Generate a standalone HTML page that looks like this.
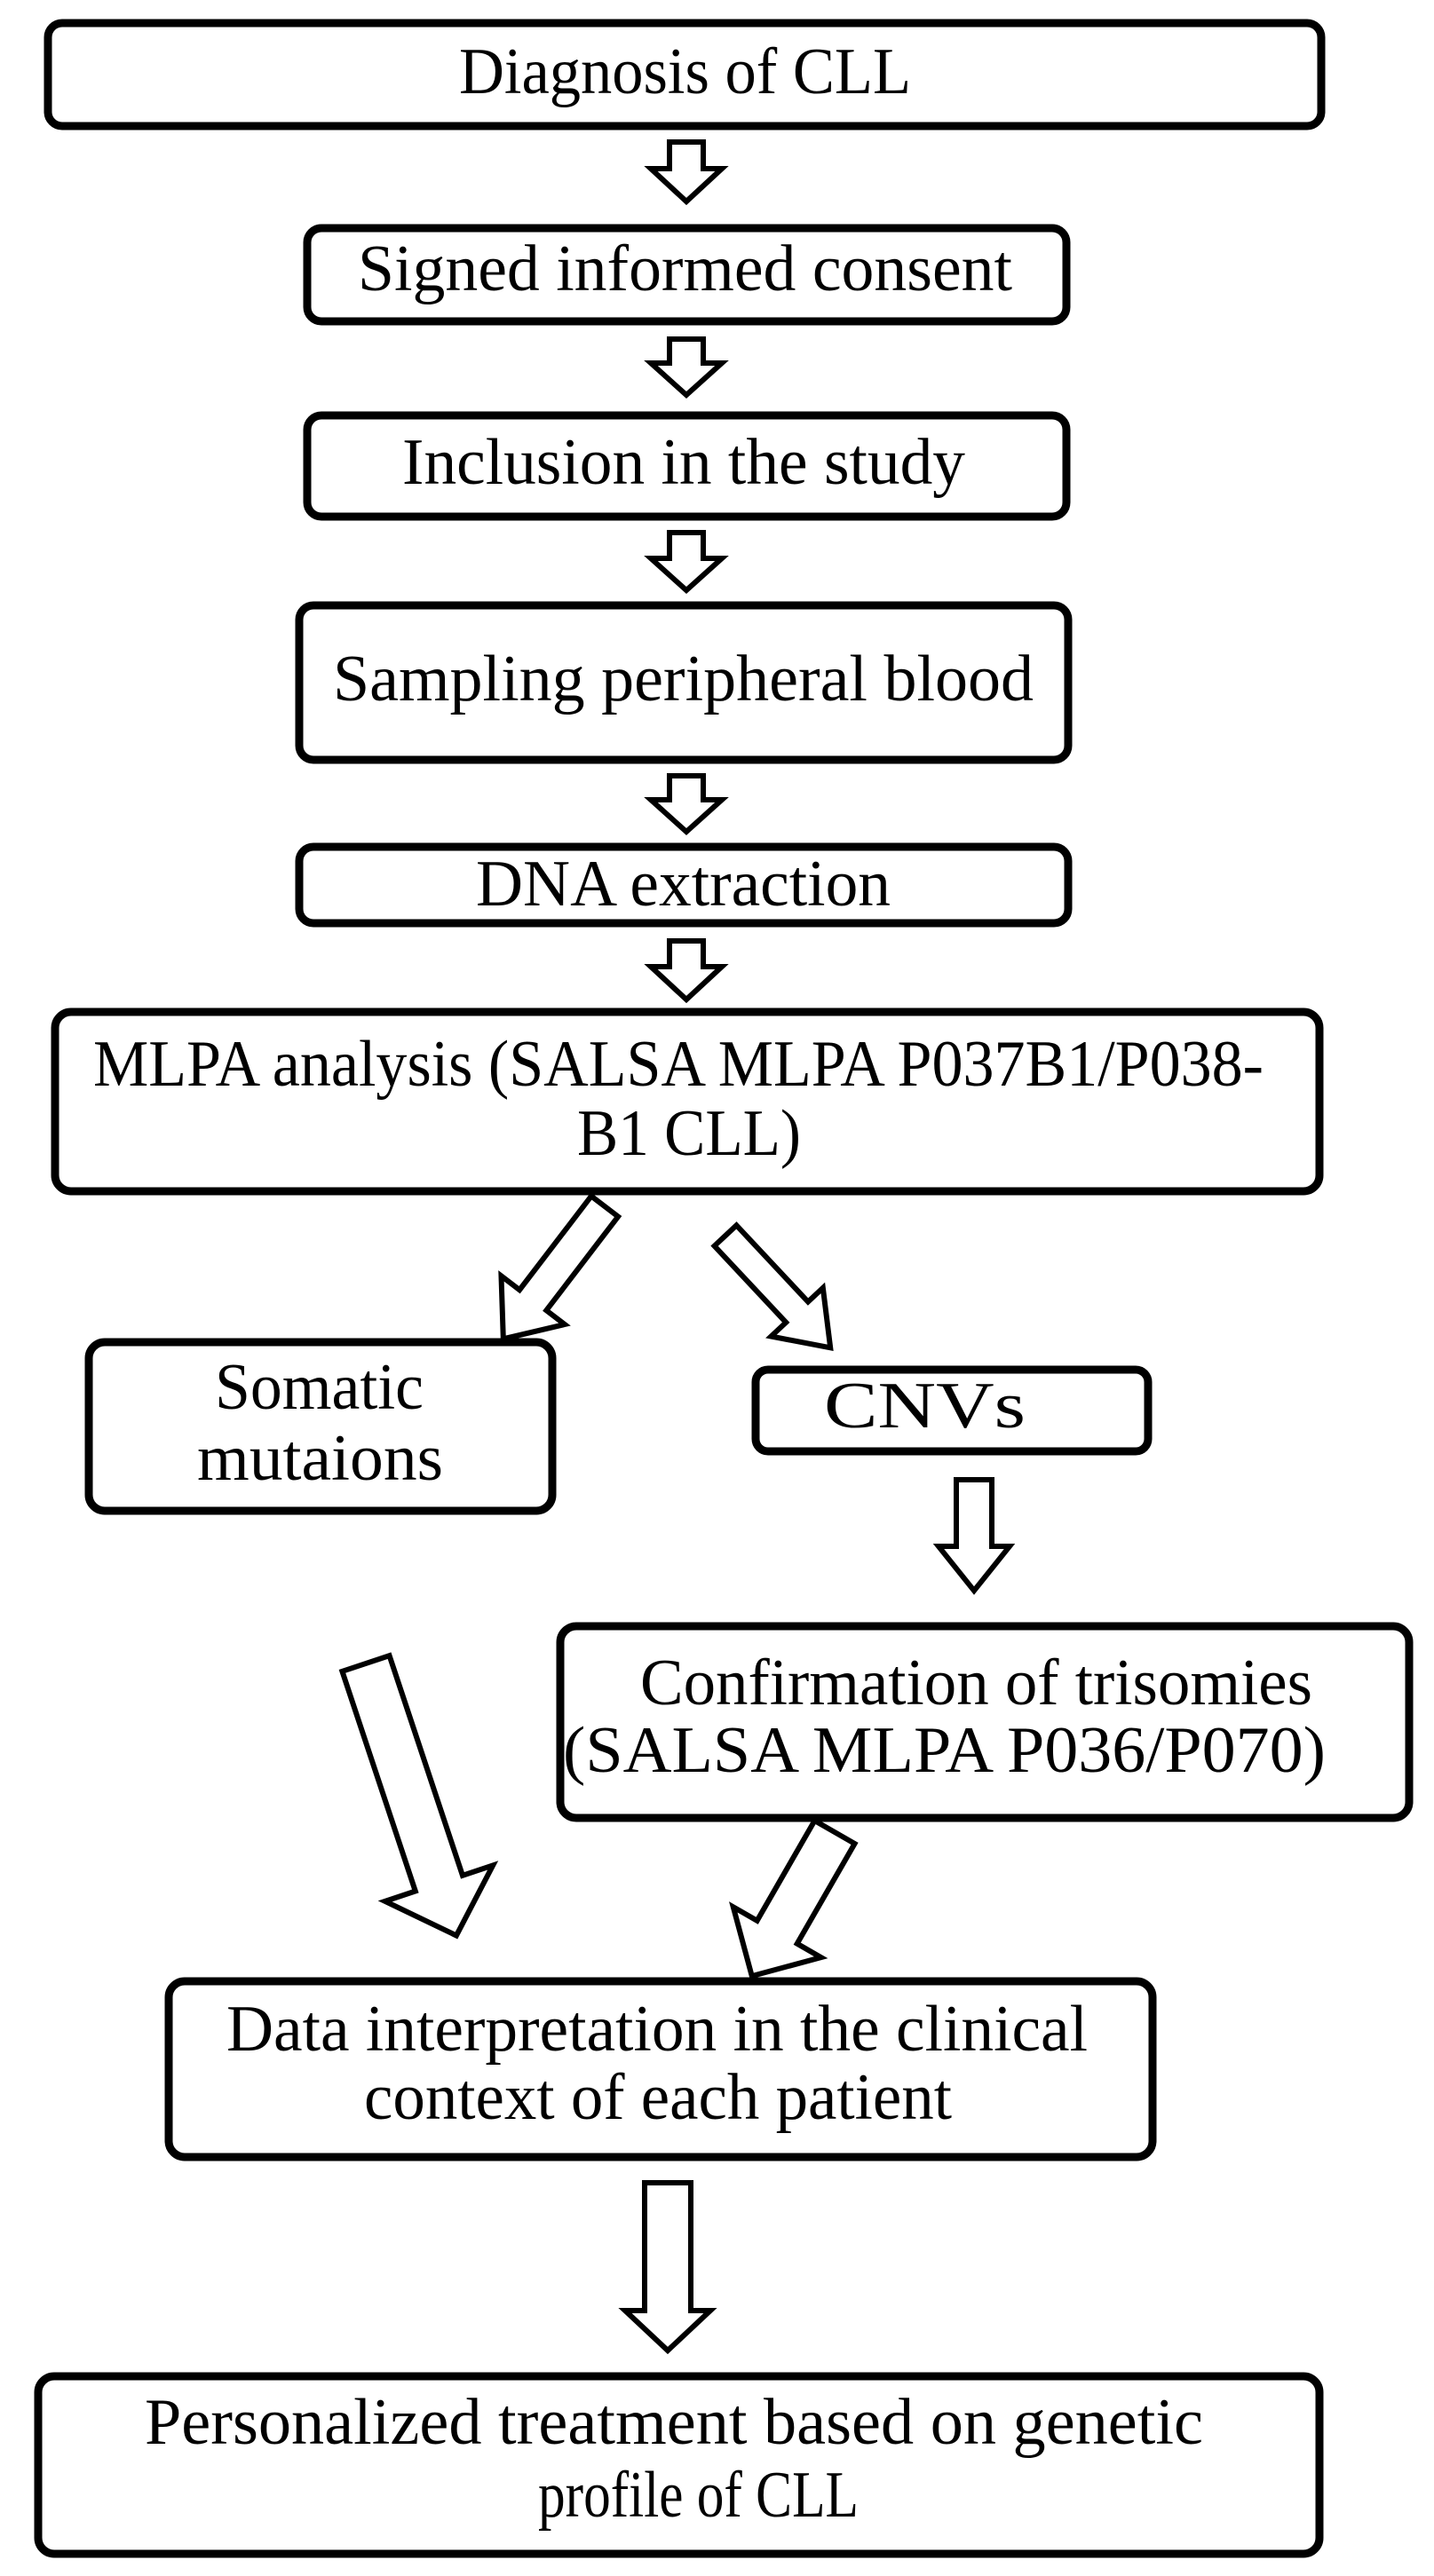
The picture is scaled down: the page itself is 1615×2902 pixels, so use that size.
<!DOCTYPE html>
<html><head><meta charset="utf-8"><style>
html,body{margin:0;padding:0;background:#fff;}
svg{display:block;}
text{font-family:"Liberation Serif",serif;font-size:74px;fill:#000;}
</style></head><body>
<svg width="1615" height="2902" viewBox="0 0 1615 2902" xmlns="http://www.w3.org/2000/svg">
<g fill="#fff" stroke="#000" stroke-width="9">
<rect x="54" y="26" width="1434" height="116" rx="16"/>
<rect x="346" y="257" width="855" height="105" rx="16"/>
<rect x="346" y="468" width="855" height="114" rx="16"/>
<rect x="337" y="682" width="866" height="174" rx="16"/>
<rect x="337" y="954" width="866" height="86" rx="16"/>
<rect x="62" y="1140" width="1424" height="202" rx="18"/>
<rect x="100" y="1512" width="522" height="190" rx="18"/>
<rect x="851" y="1543" width="442" height="92" rx="14"/>
<rect x="631" y="1832" width="956" height="216" rx="18"/>
<rect x="190" y="2232" width="1108" height="198" rx="18"/>
<rect x="43" y="2677" width="1443" height="200" rx="18"/>
</g>
<g fill="#fff" stroke="#000" stroke-width="6" stroke-linejoin="miter">
<g transform="translate(773,160) rotate(90)"><polygon points="0,-19 30,-19 30,-40 67,0 30,40 30,19 0,19"/></g>
<g transform="translate(773,382) rotate(90)"><polygon points="0,-19 27,-19 27,-40 63,0 27,40 27,19 0,19"/></g>
<g transform="translate(773,600) rotate(90)"><polygon points="0,-19 29,-19 29,-40 65,0 29,40 29,19 0,19"/></g>
<g transform="translate(773,874) rotate(90)"><polygon points="0,-19 27,-19 27,-40 63,0 27,40 27,19 0,19"/></g>
<g transform="translate(773,1060) rotate(90)"><polygon points="0,-19 29,-19 29,-40 66,0 29,40 29,19 0,19"/></g>
<g transform="translate(681,1359) rotate(127.4)"><polygon points="0,-19 133,-19 133,-45 188,0 133,45 133,19 0,19"/></g>
<g transform="translate(817,1392) rotate(46.9)"><polygon points="0,-17 118,-17 118,-40 173,0 118,40 118,17 0,17"/></g>
<g transform="translate(1097,1667) rotate(90)"><polygon points="0,-20 75,-20 75,-40 125,0 75,40 75,20 0,20"/></g>
<g transform="translate(412,1874) rotate(71.6)"><polygon points="0,-28 261,-28 261,-64 323,0 261,64 261,28 0,28"/></g>
<g transform="translate(940,2064) rotate(119.9)"><polygon points="0,-26 130,-26 130,-57 187,0 130,57 130,26 0,26"/></g>
<g transform="translate(752,2459) rotate(90)"><polygon points="0,-26 144,-26 144,-48 189,0 144,48 144,26 0,26"/></g>
</g>
<g>
<text x="517" y="105" textLength="509" lengthAdjust="spacingAndGlyphs">Diagnosis of CLL</text>
<text x="403" y="327" textLength="737" lengthAdjust="spacingAndGlyphs">Signed informed consent</text>
<text x="453" y="545" textLength="634" lengthAdjust="spacingAndGlyphs">Inclusion in the study</text>
<text x="375" y="789" textLength="789" lengthAdjust="spacingAndGlyphs">Sampling peripheral blood</text>
<text x="536" y="1020" textLength="467" lengthAdjust="spacingAndGlyphs">DNA extraction</text>
<text x="105" y="1223" textLength="1318" lengthAdjust="spacingAndGlyphs">MLPA analysis (SALSA MLPA P037B1/P038-</text>
<text x="650" y="1301" textLength="252" lengthAdjust="spacingAndGlyphs">B1 CLL)</text>
<text x="242" y="1587" textLength="235" lengthAdjust="spacingAndGlyphs">Somatic</text>
<text x="222" y="1667" textLength="277" lengthAdjust="spacingAndGlyphs">mutaions</text>
<text x="928" y="1608" textLength="227" lengthAdjust="spacingAndGlyphs">CNVs</text>
<text x="721" y="1920" textLength="757" lengthAdjust="spacingAndGlyphs">Confirmation of trisomies</text>
<text x="634" y="1996" textLength="859" lengthAdjust="spacingAndGlyphs">(SALSA MLPA P036/P070)</text>
<text x="255" y="2310" textLength="970" lengthAdjust="spacingAndGlyphs">Data interpretation in the clinical</text>
<text x="410" y="2387" textLength="662" lengthAdjust="spacingAndGlyphs">context of each patient</text>
<text x="163" y="2753" textLength="1192" lengthAdjust="spacingAndGlyphs">Personalized treatment based on genetic</text>
<text x="606" y="2835" textLength="361" lengthAdjust="spacingAndGlyphs">profile of CLL</text>
</g>
</svg>
</body></html>
